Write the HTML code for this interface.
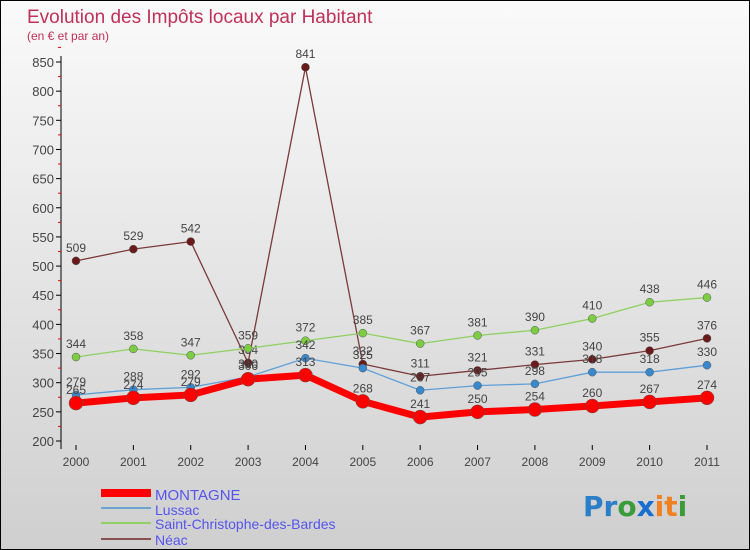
<!DOCTYPE html>
<html><head><meta charset="utf-8"><style>
body{margin:0}
#c{width:750px;height:550px;position:relative;background:linear-gradient(#fafafa,#cfcfcf);box-sizing:border-box;border:1px solid #000;font-family:"Liberation Sans",sans-serif;overflow:hidden}
</style></head><body>
<div id="c">
<svg id="s" width="750" height="550" style="position:absolute;left:0;top:0">
<text x="26" y="22" font-size="19" fill="#c0305a">Evolution des Impôts locaux par Habitant</text>
<text x="26" y="39" font-size="12" fill="#c0305a">(en € et par an)</text>
<g id="ax"></g><g id="ser"></g>
<g>
<rect x="100" y="488" width="50" height="8" fill="#f00"/>
<text x="154" y="499" font-size="15" fill="#5555ee">MONTAGNE</text>
<line x1="100" y1="507" x2="150" y2="507" stroke="#6fa3cf" stroke-width="2"/>
<text x="154" y="514" font-size="14" fill="#5555ee">Lussac</text>
<line x1="100" y1="522" x2="150" y2="522" stroke="#8fd060" stroke-width="2"/>
<text x="154" y="528" font-size="14" fill="#5555ee">Saint-Christophe-des-Bardes</text>
<line x1="100" y1="538" x2="150" y2="538" stroke="#8a5050" stroke-width="2"/>
<text x="154" y="544" font-size="14" fill="#5555ee">Néac</text>
</g>
<text x="582" y="515" font-size="28" font-family="DejaVu Sans" font-weight="bold"><tspan fill="#2a7fc8">Pr</tspan><tspan fill="#3b9b3b">o</tspan><tspan fill="#1a6ed0">x</tspan><tspan fill="#f08020">it</tspan><tspan fill="#3b9b3b">i</tspan></text>
</svg>
</div>
<script>
const years=["2000","2001","2002","2003","2004","2005","2006","2007","2008","2009","2010","2011"];
const montagne=[265,274,279,306,313,268,241,250,254,260,267,274];
const lussac=[279,288,292,310,342,325,287,295,298,318,318,330];
const stchristophe=[344,358,347,359,372,385,367,381,390,410,438,446];
const neac=[509,529,542,334,841,332,311,321,331,340,355,376];
const yTicks=[200,250,300,350,400,450,500,550,600,650,700,750,800,850];
const NS="http://www.w3.org/2000/svg";
const X=i=>75+i*(706-75)/11;
const Y=v=>440-(v-200)*(440-61)/650;
function mk(t,a,p){const e=document.createElementNS(NS,t);for(const k in a)e.setAttribute(k,a[k]);p.appendChild(e);return e;}
const ax=document.getElementById('ax');
mk('line',{x1:60,y1:55,x2:60,y2:448,stroke:'#000'},ax);
yTicks.forEach(v=>{
 mk('line',{x1:55,y1:Y(v),x2:60,y2:Y(v),stroke:'#000'},ax);
 mk('line',{x1:57,y1:Y(v+25),x2:60,y2:Y(v+25),stroke:'#e00'},ax);
 const t=mk('text',{x:53,y:Y(v)+5,'font-size':13,fill:'#444','text-anchor':'end'},ax);
 
 
 t.textContent=v;
});
years.forEach((y,i)=>{
 mk('line',{x1:X(i),y1:444,x2:X(i),y2:449,stroke:'#000'},ax);
 const t=mk('text',{x:X(i),y:465,'font-size':12,fill:'#444','text-anchor':'middle'},ax);
 
 
 t.textContent=y;
});
const ser=document.getElementById('ser');
function draw(vals,name,col,dot,w,r){
 const g=mk('g',{},ser);
 
 
 mk('polyline',{points:vals.map((v,i)=>X(i)+','+Y(v)).join(' '),fill:'none',stroke:col,'stroke-width':w,'stroke-linejoin':'round'},g);
 vals.forEach((v,i)=>{
  const c=mk('circle',{cx:X(i),cy:Y(v),r:r,fill:dot,stroke:'#555','stroke-width':0.5},g);
  
  
  const t=mk('text',{x:X(i),y:Y(v)-9,'font-size':12,fill:'#444','text-anchor':'middle'},g);
  
  
  t.textContent=v;
 });
}
draw(neac,'neac','#7a3a3a','#6a1a1a',1.3,4);
draw(stchristophe,'saint-christophe','#8fd060','#7ccc44',1.3,4);
draw(lussac,'lussac','#5fa0d8','#3a88cc',1.3,4);
draw(montagne,'montagne','#f00','#f00',7,7);
</script>
</body></html>
